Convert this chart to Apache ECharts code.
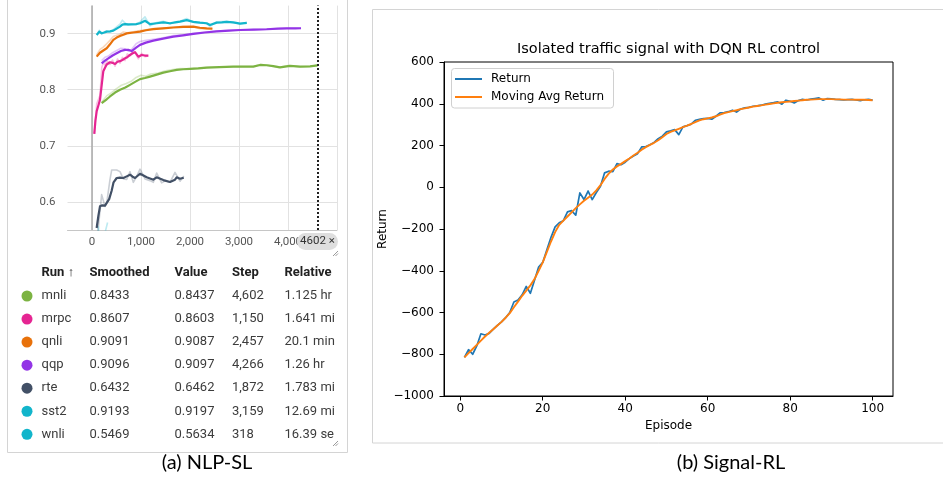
<!DOCTYPE html>
<html>
<head>
<meta charset="utf-8">
<script src="https://cdn.jsdelivr.net/npm/echarts@6/dist/echarts.min.js"></script>
<style>
html,body{margin:0;padding:0;background:#fff;}
#chart{width:943px;height:478px;}
</style>
</head>
<body>
<div id="chart"></div>
<script>
// ---------------- Panel (a): NLP-SL (TensorBoard style) ----------------
const runs = ['mnli', 'mrpc', 'qnli', 'qqp', 'rte', 'sst2', 'wnli'];
const runColors = ['#7cb342', '#e52592', '#e8710a', '#9334e6', '#425066', '#12b5cb', '#12b5cb'];
const tableSmoothed = [0.8433, 0.8607, 0.9091, 0.9096, 0.6432, 0.9193, 0.5469];
const tableValue = [0.8437, 0.8603, 0.9087, 0.9097, 0.6462, 0.9197, 0.5634];
const tableStep = [4602, 1150, 2457, 4266, 1872, 3159, 318];
const tableRelative = ['1.125 hr', '1.641 min', '20.1 min', '1.26 hr', '1.783 min', '12.69 min', '16.39 sec'];
const tableHeaders = ['Run \u2191', 'Smoothed', 'Value', 'Step', 'Relative'];
const stepTicks = [0, 1000, 2000, 3000, 4000];
const accTicks = [0.6, 0.7, 0.8, 0.9];
const cursorStep = 4602;

const mnliSmoothed = [[197,0.776],[300,0.783],[367,0.788],[470,0.795],[571,0.800],[680,0.804],[775,0.8087],[880,0.814],[980,0.819],[1080,0.821],[1184,0.8235],[1320,0.827],[1456,0.8306],[1590,0.833],[1728,0.8353],[1860,0.8365],[2000,0.8371],[2170,0.838],[2340,0.8395],[2600,0.8405],[2884,0.8413],[3100,0.8413],[3292,0.8413],[3428,0.8442],[3565,0.8437],[3700,0.842],[3837,0.840],[4041,0.8424],[4245,0.8413],[4450,0.8418],[4602,0.8433]];
const mnliRaw = [[197,0.778],[300,0.789],[400,0.795],[500,0.802],[600,0.808],[700,0.811],[800,0.815],[900,0.822],[1000,0.826],[1100,0.824],[1200,0.828],[1350,0.830],[1500,0.834],[1650,0.836],[1800,0.838],[2000,0.8375],[2200,0.839],[2400,0.840],[2700,0.841],[3000,0.8415],[3300,0.842],[3450,0.845],[3600,0.8435],[3800,0.8395],[4000,0.843],[4250,0.841],[4450,0.842],[4602,0.8437]];

const mrpcSmoothed = [[47,0.7215],[70,0.745],[96,0.762],[130,0.772],[163,0.782],[200,0.810],[231,0.833],[270,0.840],[300,0.845],[367,0.849],[420,0.848],[470,0.846],[520,0.850],[571,0.851],[620,0.853],[673,0.856],[720,0.858],[775,0.862],[830,0.865],[878,0.867],[945,0.859],[1014,0.862],[1080,0.861],[1150,0.8607]];
const mrpcRaw = [[47,0.7215],[96,0.775],[163,0.790],[200,0.840],[231,0.848],[270,0.843],[300,0.852],[367,0.845],[420,0.853],[470,0.842],[520,0.855],[571,0.847],[620,0.858],[673,0.852],[720,0.864],[775,0.860],[830,0.869],[878,0.866],[945,0.855],[1014,0.865],[1080,0.859],[1150,0.8603]];

const qnliSmoothed = [[95,0.859],[163,0.866],[230,0.870],[300,0.874],[367,0.881],[435,0.889],[503,0.893],[571,0.896],[640,0.898],[708,0.9005],[840,0.902],[980,0.9036],[1100,0.906],[1252,0.908],[1450,0.9095],[1660,0.911],[1860,0.912],[2068,0.9125],[2200,0.9105],[2340,0.9095],[2457,0.9091]];
const qnliRaw = [[95,0.862],[163,0.872],[230,0.876],[300,0.882],[367,0.888],[435,0.895],[503,0.897],[571,0.899],[640,0.903],[708,0.9015],[840,0.9035],[980,0.9055],[1100,0.907],[1252,0.909],[1450,0.910],[1660,0.9115],[1860,0.913],[2068,0.912],[2200,0.909],[2340,0.909],[2457,0.9087]];

const qqpSmoothed = [[197,0.847],[265,0.852],[333,0.856],[420,0.861],[504,0.865],[590,0.869],[673,0.871],[740,0.871],[810,0.869],[900,0.875],[980,0.880],[1100,0.884],[1252,0.8876],[1450,0.891],[1660,0.8947],[1860,0.897],[2068,0.8995],[2300,0.902],[2544,0.904],[2800,0.9055],[3020,0.9065],[3300,0.907],[3565,0.9078],[3800,0.909],[3973,0.9095],[4150,0.9095],[4266,0.9096]];
const qqpRaw = [[197,0.852],[265,0.858],[333,0.860],[420,0.866],[504,0.870],[590,0.874],[673,0.873],[740,0.869],[810,0.872],[900,0.882],[980,0.886],[1100,0.888],[1252,0.890],[1450,0.8925],[1660,0.8965],[1860,0.898],[2068,0.9005],[2300,0.9025],[2544,0.9045],[2800,0.906],[3020,0.9065],[3300,0.9072],[3565,0.908],[3800,0.9092],[3973,0.9096],[4150,0.9097],[4266,0.9097]];

const rteSmoothed = [[95,0.5536],[130,0.575],[163,0.5922],[210,0.594],[265,0.5934],[300,0.591],[350,0.605],[401,0.620],[440,0.635],[504,0.6427],[571,0.6435],[640,0.6427],[708,0.6456],[776,0.6485],[830,0.645],[878,0.6427],[980,0.6503],[1050,0.647],[1116,0.644],[1252,0.6397],[1320,0.644],[1456,0.639],[1592,0.6356],[1694,0.6397],[1728,0.644],[1796,0.6414],[1872,0.6432]];
const rteRaw = [[95,0.520],[130,0.555],[197,0.613],[265,0.592],[300,0.598],[367,0.6397],[402,0.657],[504,0.657],[571,0.654],[640,0.641],[708,0.640],[776,0.654],[843,0.635],[910,0.645],[980,0.6585],[1082,0.641],[1184,0.638],[1252,0.635],[1320,0.6515],[1422,0.634],[1500,0.638],[1592,0.635],[1694,0.6527],[1796,0.637],[1872,0.6462]];

const sst2Smoothed = [[95,0.8977],[150,0.9035],[197,0.9007],[250,0.902],[300,0.9036],[367,0.904],[435,0.9053],[503,0.909],[571,0.9125],[620,0.916],[673,0.917],[740,0.9165],[810,0.9166],[900,0.917],[980,0.9185],[1082,0.923],[1184,0.917],[1320,0.9185],[1456,0.920],[1592,0.9185],[1700,0.920],[1796,0.9214],[1932,0.924],[2068,0.921],[2204,0.9196],[2340,0.9185],[2408,0.9154],[2544,0.9196],[2650,0.920],[2748,0.921],[2884,0.920],[3020,0.918],[3159,0.9193]];
const sst2Raw = [[95,0.898],[150,0.906],[197,0.899],[250,0.903],[300,0.905],[367,0.903],[435,0.907],[503,0.912],[571,0.917],[620,0.924],[673,0.919],[740,0.915],[810,0.917],[900,0.916],[980,0.921],[1082,0.930],[1184,0.914],[1320,0.920],[1456,0.922],[1592,0.917],[1700,0.921],[1796,0.922],[1932,0.927],[2068,0.920],[2204,0.919],[2340,0.918],[2408,0.913],[2544,0.921],[2650,0.9215],[2748,0.922],[2884,0.9195],[3020,0.9175],[3159,0.9197]];

const wnliSmoothed = [[95,0.500],[130,0.520],[163,0.525],[230,0.515],[265,0.525],[318,0.5469]];
const wnliRaw = [[95,0.500],[130,0.556],[163,0.530],[230,0.500],[265,0.545],[318,0.5634]];

const smoothedRuns = [mnliSmoothed, mrpcSmoothed, qnliSmoothed, qqpSmoothed, rteSmoothed, sst2Smoothed, wnliSmoothed];
const rawRuns = [mnliRaw, mrpcRaw, qnliRaw, qqpRaw, rteRaw, sst2Raw, wnliRaw];

// ---------------- Panel (b): Signal-RL (matplotlib style) ----------------
const rlTitle = 'Isolated traffic signal with DQN RL control';
const episodes = Array.from({length: 100}, (_, i) => i + 1);
const episodeTicks = [0, 20, 40, 60, 80, 100];
const returnValues = [
 -815,-778,-800,-760,-702,-708,-700,-680,-662,-645,
 -625,-600,-550,-540,-515,-475,-508,-445,-382,-360,
 -300,-240,-190,-170,-160,-118,-112,-134,-27,-59,
 -18,-59,-25,5,69,77,75,113,108,120,
 137,150,161,193,195,204,215,233,245,265,
 270,276,252,289,295,302,321,325,329,330,
 326,340,356,358,362,369,360,375,380,383,
 388,390,393,398,402,405,409,398,417,412,
 404,415,421,418,422,425,428,417,425,423,
 421,420,418,420,421,418,415,419,421,417];
const movingAvgValues = [
 -815,-795,-775,-755,-735,-715,-697,-680,-662,-645,
 -625,-603,-575,-548,-520,-495,-470,-440,-400,-360,
 -310,-260,-215,-180,-160,-140,-120,-100,-82,-65,
 -50,-35,-15,10,40,65,85,100,112,125,
 138,152,165,180,192,203,213,225,240,255,
 265,272,280,288,295,303,312,320,326,330,
 334,340,348,355,360,365,369,374,378,382,
 386,389,392,396,399,402,405,407,409,411,
 413,415,417,419,420,421,422,422,422,422,
 421,421,420,420,420,419,419,419,418,417];
const rlSeriesNames = ['Return', 'Moving Avg Return'];
const rlColors = ['#1f77b4', '#ff7f0e'];

const captions = ['(a) NLP-SL', '(b) Signal-RL'];

// ---------------- Build option ----------------
const TB_FONT = 'Roboto';
const MPL_FONT = 'DejaVu Sans';
const minusFmt = v => (v < 0 ? '\u2212' + Math.abs(v) : String(v));

const series = [];
runs.forEach((name, i) => {
  series.push({
    name: name + ' (raw)', type: 'line', xAxisIndex: 0, yAxisIndex: 0,
    data: rawRuns[i], showSymbol: false, symbol: 'none', z: 1, silent: true,
    lineStyle: {color: runColors[i], width: 1.6, opacity: 0.28, join: 'round'}
  });
});
runs.forEach((name, i) => {
  const s = {
    name: name, type: 'line', xAxisIndex: 0, yAxisIndex: 0,
    data: smoothedRuns[i], showSymbol: false, symbol: 'none', z: 3, silent: true,
    lineStyle: {color: runColors[i], width: 2.2, join: 'round'}
  };
  if (i === 0) {
    s.markLine = {
      silent: true, symbol: 'none', label: {show: false},
      data: [
        {xAxis: 0, lineStyle: {color: '#a8a8a8', width: 1.5, type: 'solid'}},
        {xAxis: cursorStep, lineStyle: {color: '#202020', width: 2, type: [2, 2]}}
      ]
    };
  }
  series.push(s);
});
series.push({
  name: rlSeriesNames[0], type: 'line', xAxisIndex: 1, yAxisIndex: 1,
  data: episodes.map((e, i) => [e, returnValues[i]]), showSymbol: false, symbol: 'none', z: 3, silent: true,
  lineStyle: {color: rlColors[0], width: 1.7, join: 'round'}
});
series.push({
  name: rlSeriesNames[1], type: 'line', xAxisIndex: 1, yAxisIndex: 1,
  data: episodes.map((e, i) => [e, movingAvgValues[i]]), showSymbol: false, symbol: 'none', z: 4, silent: true,
  lineStyle: {color: rlColors[1], width: 1.9, join: 'round'}
});

const graphics = [];
// panel borders
graphics.push({type: 'rect', silent: true, z: -10, shape: {x: 7.5, y: -1, width: 340, height: 453.5},
  style: {fill: 'none', stroke: '#d4d4d4', lineWidth: 1}});
graphics.push({type: 'rect', silent: true, z: -10, shape: {x: 372.5, y: 9.5, width: 580, height: 433.5},
  style: {fill: 'none', stroke: '#d4d4d4', lineWidth: 1}});

// cursor chip "4602 ×"
graphics.push({type: 'rect', silent: true, z: 50, shape: {x: 297, y: 233, width: 41, height: 17, r: 8.5},
  style: {fill: '#dedede'}});
graphics.push({type: 'text', silent: true, z: 51, x: 317.5, y: 241.5,
  style: {text: cursorStep + ' \u00d7', font: '11.5px ' + TB_FONT, fill: '#333', align: 'center', verticalAlign: 'middle'}});

// resize handles
[[256], [446]].forEach(([yb]) => {
  graphics.push({type: 'line', silent: true, shape: {x1: 333, y1: yb, x2: 338, y2: yb - 5}, style: {stroke: '#9a9a9a', lineWidth: 1}});
  graphics.push({type: 'line', silent: true, shape: {x1: 335.5, y1: yb, x2: 338, y2: yb - 2.5}, style: {stroke: '#9a9a9a', lineWidth: 1}});
});

// run table
const colX = [41.5, 89.5, 174.5, 232, 284.5];
const headerY = 273;
const rowY0 = 296, rowDY = 23.05;
tableHeaders.forEach((h, c) => {
  graphics.push({type: 'text', silent: true, x: colX[c], y: headerY,
    style: {text: h, font: 'bold 13px ' + TB_FONT, fill: '#212121', align: 'left', verticalAlign: 'middle'}});
});
runs.forEach((name, i) => {
  const y = rowY0 + i * rowDY;
  graphics.push({type: 'circle', silent: true, shape: {cx: 27, cy: y, r: 5.5}, style: {fill: runColors[i]}});
  const cells = [name, tableSmoothed[i].toFixed(4), tableValue[i].toFixed(4),
    tableStep[i].toLocaleString('en-US'), tableRelative[i]];
  cells.forEach((t, c) => {
    const st = {text: t, font: '13px ' + TB_FONT, fill: '#3c3c3c', align: 'left', verticalAlign: 'middle'};
    if (c === 4) { st.width = 54; st.overflow = 'truncate'; st.ellipsis = ''; }
    graphics.push({type: 'text', silent: true, x: colX[c], y: y, style: st});
  });
});

// matplotlib title
graphics.push({type: 'text', silent: true, x: 668.5, y: 49,
  style: {text: rlTitle, font: '14.5px ' + MPL_FONT, fill: '#000', align: 'center', verticalAlign: 'middle'}});

// matplotlib legend
graphics.push({type: 'rect', silent: true, z: 20, shape: {x: 451.5, y: 68.5, width: 162, height: 39.5, r: 3},
  style: {fill: 'rgba(255,255,255,0.85)', stroke: '#d0d0d0', lineWidth: 1}});
rlSeriesNames.forEach((n, i) => {
  const y = 79 + i * 18;
  graphics.push({type: 'line', silent: true, z: 21, shape: {x1: 455, y1: y, x2: 482, y2: y},
    style: {stroke: rlColors[i], lineWidth: 2}});
  graphics.push({type: 'text', silent: true, z: 21, x: 491, y: y,
    style: {text: n, font: '12px ' + MPL_FONT, fill: '#000', align: 'left', verticalAlign: 'middle'}});
});

// captions
graphics.push({type: 'text', silent: true, x: 207, y: 463,
  style: {text: captions[0], font: '20px Lato', fill: '#000', align: 'center', verticalAlign: 'middle'}});
graphics.push({type: 'text', silent: true, x: 731, y: 463,
  style: {text: captions[1], font: '20px Lato', fill: '#000', align: 'center', verticalAlign: 'middle'}});

const option = {
  animation: false,
  backgroundColor: '#fff',
  grid: [
    {left: 67.5, top: 5.6, width: 269.5, height: 224.4, show: false},
    {left: 444, top: 62, width: 449, height: 334, show: true, borderColor: '#000', borderWidth: 1, backgroundColor: 'transparent'}
  ],
  xAxis: [
    {
      type: 'value', gridIndex: 0, min: -500, max: 5000,
      axisLine: {show: true, onZero: false, lineStyle: {color: '#c6c6c6', width: 1}},
      axisTick: {show: false, customValues: stepTicks.concat([5000])},
      axisLabel: {customValues: stepTicks, margin: 6, color: '#555', fontFamily: TB_FONT, fontSize: 11.5,
        formatter: v => v.toLocaleString('en-US')},
      splitLine: {show: true, lineStyle: {color: '#e2e2e2', width: 1}}
    },
    {
      type: 'value', gridIndex: 1, min: -3.95, max: 104.95,
      name: 'Episode', nameLocation: 'middle', nameGap: 24,
      nameTextStyle: {color: '#000', fontFamily: MPL_FONT, fontSize: 12},
      axisLine: {show: true, onZero: false, lineStyle: {color: '#000', width: 1}},
      axisTick: {show: true, customValues: episodeTicks, length: 4.5, lineStyle: {color: '#000', width: 1}},
      axisLabel: {customValues: episodeTicks, margin: 7, color: '#000', fontFamily: MPL_FONT, fontSize: 12},
      splitLine: {show: false}
    }
  ],
  yAxis: [
    {
      type: 'value', gridIndex: 0, min: 0.55, max: 0.95,
      axisLine: {show: false},
      axisTick: {show: false, customValues: accTicks},
      axisLabel: {customValues: accTicks, margin: 12, color: '#555', fontFamily: TB_FONT, fontSize: 11.5,
        formatter: v => v.toFixed(1)},
      splitLine: {show: true, lineStyle: {color: '#e2e2e2', width: 1}}
    },
    {
      type: 'value', gridIndex: 1, min: -1000, max: 600, interval: 200,
      name: 'Return', nameLocation: 'middle', nameGap: 55, nameRotate: 90,
      nameTextStyle: {color: '#000', fontFamily: MPL_FONT, fontSize: 12},
      axisLine: {show: true, onZero: false, lineStyle: {color: '#000', width: 1}},
      axisTick: {show: true, length: 4.5, lineStyle: {color: '#000', width: 1}},
      axisLabel: {margin: 10, color: '#000', fontFamily: MPL_FONT, fontSize: 12, formatter: minusFmt,
        showMinLabel: true, showMaxLabel: true},
      splitLine: {show: false}
    }
  ],
  series: series,
  graphic: {elements: graphics}
};

const chart = echarts.init(document.getElementById('chart'), null, {renderer: 'canvas'});
chart.setOption(option);
</script>
</body>
</html>
